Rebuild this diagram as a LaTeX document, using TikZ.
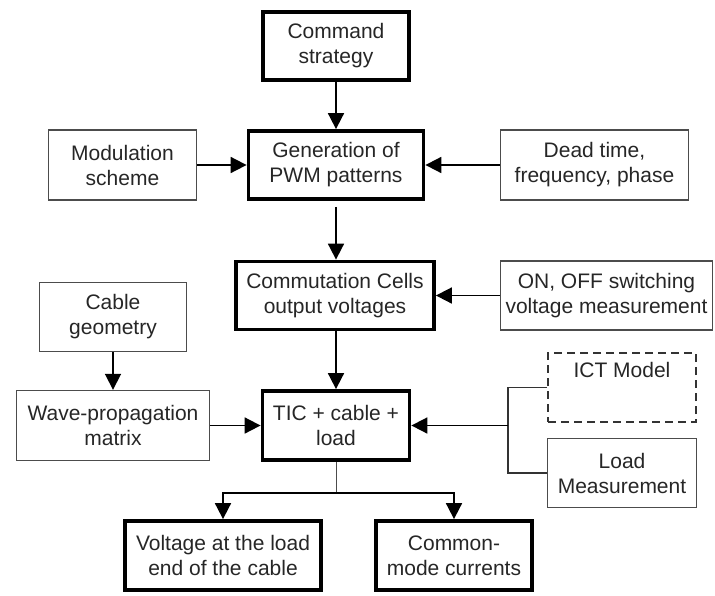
\documentclass[tikz,border=0pt]{standalone}
\usepackage{fontspec}
\setmainfont{Liberation Sans}
\usetikzlibrary{arrows.meta}
\tikzset{
  module/.style={align=center, font=\fontsize{21}{25}\selectfont, text=black!85, inner sep=0pt},
  main module/.style={module, draw=black, line width=3.8pt},
  side module/.style={module, draw=black!70, line width=1.4pt},
  dashed module/.style={module, draw=black!80, line width=2.2pt, dash pattern=on 8pt off 5pt},
  module arrow/.style={-{Triangle[length=16pt,width=16pt]}, line width=1.8pt},
  link/.style={draw=black!80, line width=1.5pt},
  thin link/.style={draw=black!70, line width=1pt},
}

\begin{document}
\begin{tikzpicture}[x=1pt,y=-1pt]
\useasboundingbox (0,0) rectangle (715,595);
% the nodes
\node [main module, minimum width=146pt, minimum height=68pt] (bbCmd) at (336,46) {Command\\strategy};
\node [main module, minimum width=175pt, minimum height=68pt] (bbGen) at (336,165) {Generation of\\PWM patterns};
\node [side module, minimum width=148pt, minimum height=70pt] (bbMod) at (122.5,165) {Modulation\\scheme};
\node [side module, minimum width=188pt, minimum height=70pt] (bbDead) at (594.5,165) {Dead time,\\frequency, phase};
\node [main module, minimum width=198pt, minimum height=68pt] (bbComm) at (335,295.5) {Commutation Cells\\output voltages};
\node [side module, minimum width=212pt, minimum height=69pt] (bbSwitch) at (606.5,295.5) {ON, OFF switching\\voltage measurement};
\node [side module, minimum width=147pt, minimum height=69pt] (bbCable) at (113,317) {Cable\\geometry};
\node [side module, minimum width=193pt, minimum height=70pt] (bbWave) at (113,425.5) {Wave-propagation\\matrix};
\node [main module, minimum width=147pt, minimum height=69pt] (bbTIC) at (336,425.5) {TIC + cable +\\load};
\node [dashed module, minimum width=148pt, minimum height=69pt] (bbICT) at (622,387.5) {ICT Model\\[0.5em]\mbox{}};
\node [side module, minimum width=149pt, minimum height=69pt] (bbLoad) at (622,473) {Load\\Measurement};
\node [main module, minimum width=196pt, minimum height=69pt] (bbVolt) at (223,555.5) {Voltage at the load\\end of the cable};
\node [main module, minimum width=156pt, minimum height=69pt] (bbCM) at (454,555.5) {Common-\\mode currents};
\coordinate (bbJoin) at (508,425.5);
\coordinate (bbSplit) at (336,493);
%drawings of vectors
\draw[module arrow] (bbCmd) -- (bbGen);
\draw[module arrow] (bbMod) -- (bbGen);
\draw[module arrow] (bbDead) -- (bbGen);
\draw[module arrow, shorten <=6pt] (bbGen) -- (bbComm.north -| bbGen);
\draw[module arrow] (bbSwitch) -- (bbComm);

\draw[module arrow] (bbComm.south -| bbTIC) -- (bbTIC);
\draw[module arrow] (bbCable) -- (bbWave);
\draw[module arrow] (bbWave) -- (bbTIC);

\draw[link] (bbICT.west) -- (bbICT.west -| bbJoin) -- (bbLoad.west -| bbJoin) -- (bbLoad.west);
\draw[module arrow] (bbJoin) -- (bbTIC.east);

\draw[thin link] (bbTIC.south) -- (bbSplit);
\draw[module arrow] (bbSplit) -| (bbVolt.north);
\draw[module arrow] (bbSplit) -| (bbCM.north);

\end{tikzpicture}
\end{document}
